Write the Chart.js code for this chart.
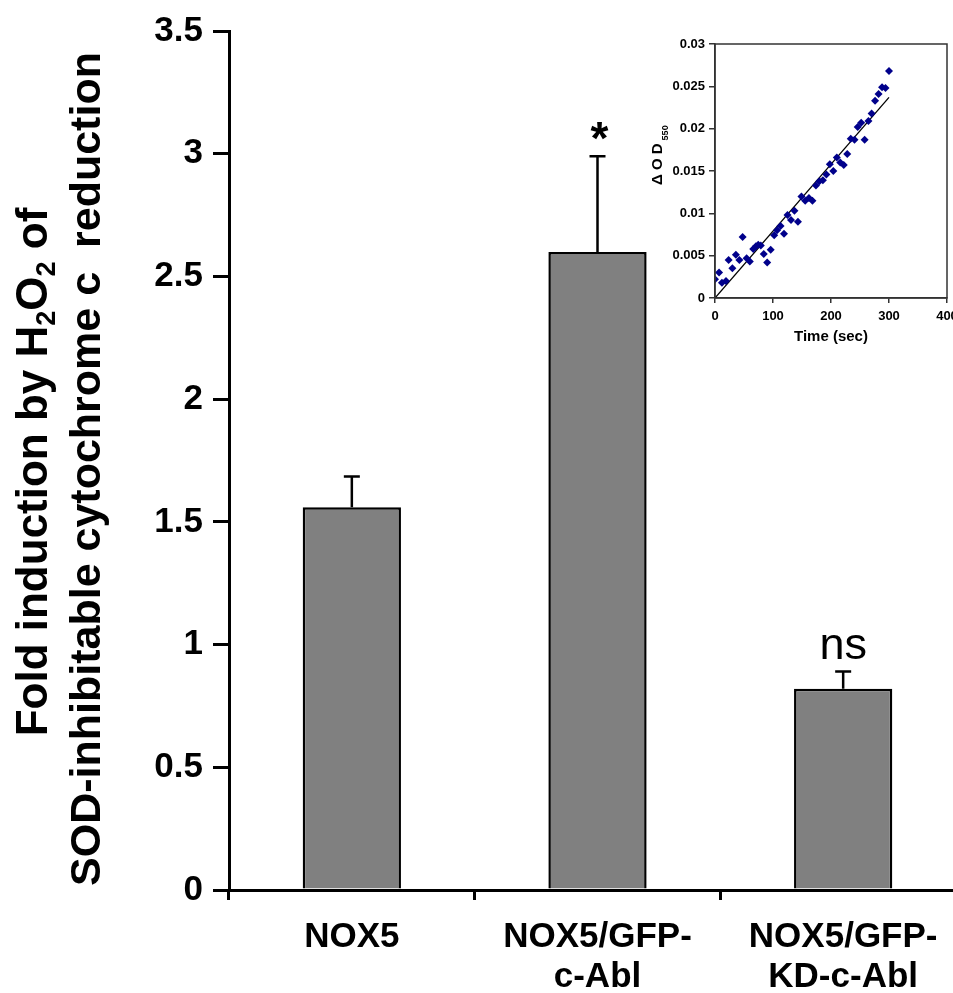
<!DOCTYPE html>
<html>
<head>
<meta charset="utf-8">
<script src="https://cdn.jsdelivr.net/npm/chart.js@4.4.0/dist/chart.umd.min.js"></script>
<style>
    html, body { margin: 0; padding: 0; background: #fff; overflow: hidden; }
    #wrap { position: relative; width: 953px; height: 993px; overflow: hidden; background: #fff; }
    #mainChart { position: absolute; left: 0; top: 0; }
    #insetChart { position: absolute; left: 640px; top: 30px; }
</style>
</head>
<body>
<div id="wrap">
    <canvas id="mainChart" width="980" height="993"></canvas>
    <canvas id="insetChart" width="340" height="320"></canvas>
</div>
<script>
// Main bar chart data
const categories = [['NOX5'], ['NOX5/GFP-', 'c-Abl'], ['NOX5/GFP-', 'KD-c-Abl']];
const foldValues = [1.56, 2.60, 0.82];
const foldErrors = [0.125, 0.39, 0.07];
const sigLabels = ['', '*', 'ns'];
const yTicks = [0, 0.5, 1, 1.5, 2, 2.5, 3, 3.5];

// Inset: delta OD550 over time
const timeSec = [0, 7, 12, 19, 23.5, 30, 36, 42, 47.6, 54.5, 60, 66, 70.6, 74.6, 79, 84, 90, 96,
    102, 107, 113, 119, 125, 131, 137, 143, 149, 155.5, 162, 168, 174, 180, 186, 192, 198, 204,
    210, 216, 222, 228, 234, 240.5, 246, 252, 258, 264.5, 270, 276, 282, 288, 294, 300];
const deltaOD = [0.0022, 0.0030, 0.0018, 0.0020, 0.0045, 0.0035, 0.0051, 0.0045, 0.0072, 0.0047,
    0.0043, 0.0058, 0.0061, 0.0063, 0.0062, 0.0052, 0.0042, 0.0057, 0.0074, 0.0080, 0.0085,
    0.0076, 0.0098, 0.0092, 0.0103, 0.0090, 0.0120, 0.0115, 0.0118, 0.0115, 0.0133, 0.0138,
    0.0139, 0.0146, 0.0158, 0.0150, 0.0166, 0.0160, 0.0157, 0.0170, 0.0188, 0.0187, 0.0202,
    0.0207, 0.0187, 0.0209, 0.0218, 0.0233, 0.0241, 0.0249, 0.0248, 0.0268];
const fitTime = [0, 300];
const fitOD = [0, 0.0237];

const FONT = "'Liberation Sans', Arial, sans-serif";

// Error bars and significance marks on top of the bars
const errorBarPlugin = {
    id: 'errorBars',
    afterDatasetsDraw(chart) {
        const ctx = chart.ctx;
        const yScale = chart.scales.y;
        const meta = chart.getDatasetMeta(0);
        ctx.save();
        ctx.strokeStyle = '#000';
        ctx.lineWidth = 2.5;
        meta.data.forEach((bar, i) => {
            const yTop = yScale.getPixelForValue(foldValues[i] + foldErrors[i]);
            ctx.beginPath();
            ctx.moveTo(bar.x, bar.y);
            ctx.lineTo(bar.x, yTop);
            ctx.moveTo(bar.x - 8, yTop);
            ctx.lineTo(bar.x + 8, yTop);
            ctx.stroke();

            ctx.fillStyle = '#000';
            ctx.textAlign = 'center';
            ctx.textBaseline = 'alphabetic';
            if (sigLabels[i] === '*') {
                ctx.font = 'bold 46px ' + FONT;
                ctx.fillText('*', bar.x + 2, yTop - 2);
            } else if (sigLabels[i]) {
                ctx.font = '45px ' + FONT;
                ctx.fillText(sigLabels[i], bar.x, yTop - 13);
            }
        });
        ctx.restore();
    }
};

// Draw a rotated line of text made of normal / subscript pieces, centred on centerY
function drawRotatedLine(ctx, pieces, baseX, centerY, size) {
    const subSize = Math.round(size * 0.62);
    let total = 0;
    pieces.forEach(p => {
        ctx.font = 'bold ' + (p[1] ? subSize : size) + 'px ' + FONT;
        total += ctx.measureText(p[0]).width;
    });
    ctx.save();
    ctx.translate(baseX, centerY);
    ctx.rotate(-Math.PI / 2);
    let x = -total / 2;
    pieces.forEach(p => {
        ctx.font = 'bold ' + (p[1] ? subSize : size) + 'px ' + FONT;
        ctx.fillText(p[0], x, p[1] ? size * 0.18 : 0);
        x += ctx.measureText(p[0]).width;
    });
    ctx.restore();
}

const yTitlePlugin = {
    id: 'yTitle',
    afterDraw(chart) {
        const ctx = chart.ctx;
        ctx.save();
        ctx.fillStyle = '#000';
        ctx.textAlign = 'left';
        ctx.textBaseline = 'alphabetic';
        drawRotatedLine(ctx, [['Fold induction by H', 0], ['2', 1], ['O', 0], ['2', 1], [' of', 0]], 47, 472, 44);
        drawRotatedLine(ctx, [['SOD-inhibitable cytochrome c  reduction', 0]], 100, 469, 43);
        ctx.restore();
    }
};

new Chart(document.getElementById('mainChart').getContext('2d'), {
    type: 'bar',
    data: {
        labels: categories,
        datasets: [{
            data: foldValues,
            backgroundColor: '#808080',
            borderColor: '#000',
            borderWidth: 2.5,
            barPercentage: 0.4,
            categoryPercentage: 1
        }]
    },
    options: {
        responsive: false,
        animation: false,
        layout: { padding: { top: 29, right: 14, bottom: 0, left: 0 } },
        plugins: {
            legend: { display: false },
            tooltip: { enabled: false }
        },
        scales: {
            x: {
                grid: { offset: true, drawOnChartArea: false, tickLength: 10, lineWidth: 3, color: '#000' },
                border: { color: '#000', width: 3 },
                ticks: {
                    color: '#000',
                    font: { family: FONT, size: 35, weight: 'bold', lineHeight: 1.15 },
                    padding: 17,
                    maxRotation: 0,
                    autoSkip: false
                },
                afterFit(scale) { scale.height = 103; }
            },
            y: {
                min: 0,
                max: 3.5,
                afterBuildTicks(scale) { scale.ticks = yTicks.map(v => ({ value: v })); },
                ticks: {
                    color: '#000',
                    font: { family: FONT, size: 35, weight: 'bold' },
                    padding: 10,
                    callback: v => String(v)
                },
                grid: { drawOnChartArea: false, tickLength: 16, lineWidth: 3, color: '#000' },
                border: { color: '#000', width: 3 },
                afterFit(scale) { scale.width = 229; }
            }
        }
    },
    plugins: [errorBarPlugin, yTitlePlugin]
});

// Inset scatter with fitted line
const insetBoxPlugin = {
    id: 'insetBox',
    afterDraw(chart) {
        const ctx = chart.ctx;
        const a = chart.chartArea;
        ctx.save();
        ctx.strokeStyle = '#333';
        ctx.lineWidth = 1.5;
        ctx.strokeRect(a.left, a.top, a.right - a.left, a.bottom - a.top);
        // y title: delta OD with 550 subscript
        ctx.fillStyle = '#000';
        ctx.translate(22, 155);
        ctx.rotate(-Math.PI / 2);
        ctx.font = 'bold 15px ' + FONT;
        ctx.textAlign = 'left';
        ctx.fillText('\u0394 O D', 0, 0);
        const w = ctx.measureText('\u0394 O D').width;
        ctx.font = 'bold 9px ' + FONT;
        ctx.fillText('550', w + 3, 6);
        ctx.restore();
    }
};

new Chart(document.getElementById('insetChart').getContext('2d'), {
    type: 'scatter',
    data: {
        datasets: [
            {
                data: timeSec.map((t, i) => ({ x: t, y: deltaOD[i] })),
                pointStyle: 'rectRot',
                pointRadius: 4,
                backgroundColor: '#00008B',
                borderColor: '#00008B',
                borderWidth: 0
            },
            {
                type: 'line',
                data: fitTime.map((t, i) => ({ x: t, y: fitOD[i] })),
                borderColor: '#000',
                borderWidth: 1.3,
                pointRadius: 0,
                fill: false
            }
        ]
    },
    options: {
        responsive: false,
        animation: false,
        layout: { padding: { top: 14, right: 33, bottom: 0, left: 0 } },
        plugins: {
            legend: { display: false },
            tooltip: { enabled: false }
        },
        scales: {
            x: {
                type: 'linear',
                min: 0,
                max: 400,
                ticks: { stepSize: 100, color: '#000', font: { family: FONT, size: 13, weight: 'bold' }, padding: 6 },
                grid: { drawOnChartArea: false, tickLength: 5, lineWidth: 1.5, color: '#333' },
                border: { color: '#333', width: 1.5 },
                title: { display: true, text: 'Time (sec)', color: '#000', font: { family: FONT, size: 15, weight: 'bold' }, padding: { top: 2 } },
                afterFit(scale) { scale.height = 52; }
            },
            y: {
                min: 0,
                max: 0.03,
                ticks: {
                    stepSize: 0.005,
                    color: '#000',
                    font: { family: FONT, size: 13, weight: 'bold' },
                    padding: 4,
                    callback: v => String(parseFloat(v.toFixed(4)))
                },
                grid: { drawOnChartArea: false, tickLength: 6, lineWidth: 1.5, color: '#333' },
                border: { color: '#333', width: 1.5 },
                afterFit(scale) { scale.width = 75; }
            }
        }
    },
    plugins: [insetBoxPlugin]
});
</script>
</body>
</html>
